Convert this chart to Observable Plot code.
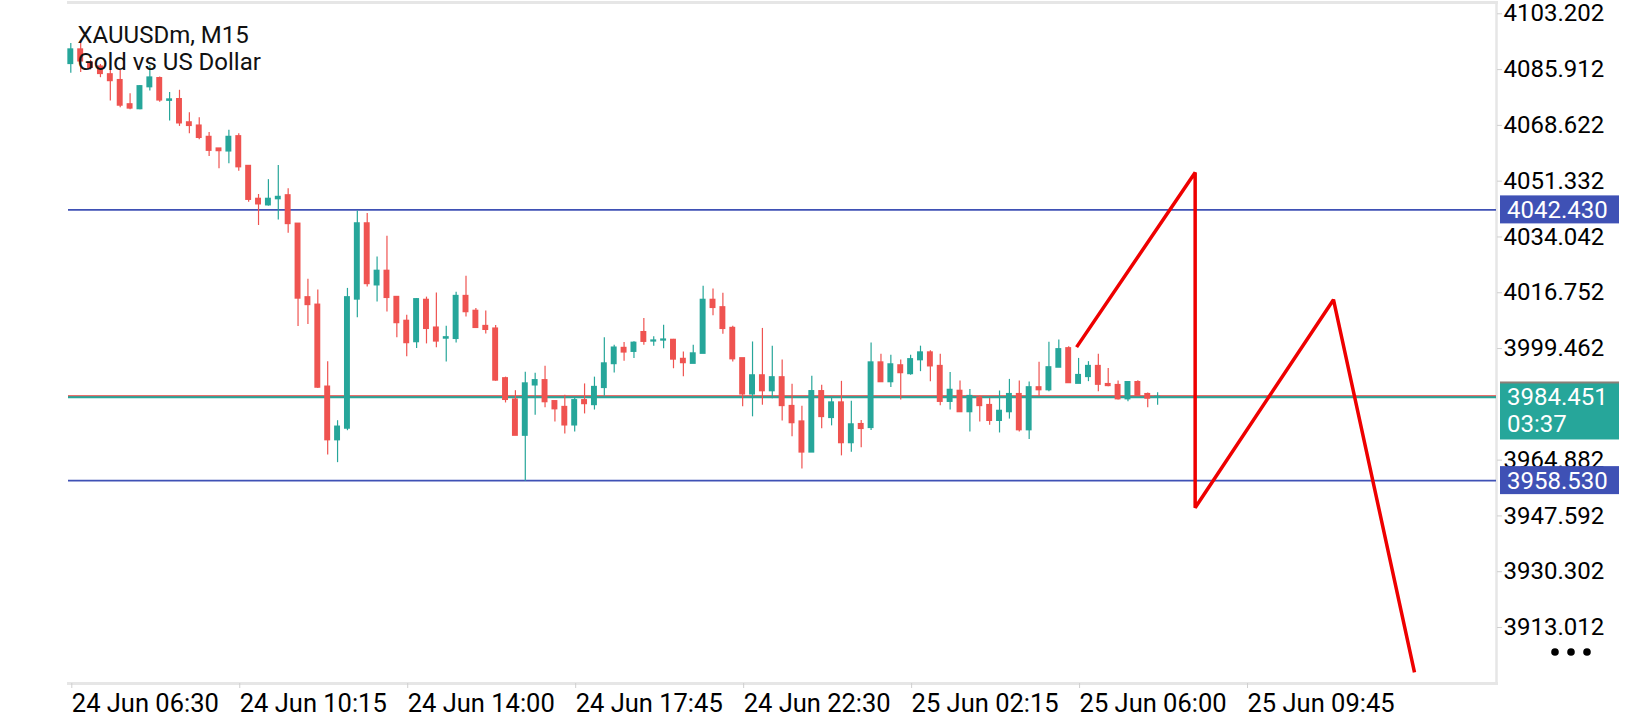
<!DOCTYPE html>
<html>
<head>
<meta charset="utf-8">
<script src="https://cdn.jsdelivr.net/npm/d3@7"></script>
<script src="https://cdn.jsdelivr.net/npm/@observablehq/plot@0.6"></script>
<style>
  html, body { margin: 0; padding: 0; background: #ffffff; }
  #chart { width: 1640px; height: 720px; }
</style>
</head>
<body>
<div id="chart"></div>
<script>
// ---- data ----
const titleLines = ["XAUUSDm, M15", "Gold vs US Dollar"];

const opens = [4087.7,4092.1,4088.0,4086.8,4084.4,4082.6,4075.1,4073.7,4080.5,4083.2,
4076.3,4076.7,4069.5,4068.5,4065.0,4061.4,4060.6,4065.2,4056.0,4045.8,
4043.9,4045.8,4046.9,4038.1,4015.3,4013.0,3987.6,3971.1,3974.7,4014.7,
4038.2,4019.1,4023.5,4015.4,4008.0,4001.5,4014.5,4005.9,4002.6,4002.5,
4015.7,4011.1,4006.4,4005.6,3990.2,3983.6,3972.5,3988.1,3989.6,3983.1,
3981.3,3975.7,3983.4,3982.0,3987.3,3994.7,3999.6,3998.5,4004.5,4001.7,
4002.0,4002.1,3996.2,3994.8,3997.9,4014.5,4012.2,4005.8,3996.4,3985.3,
3991.1,3986.3,3990.5,3981.6,3976.8,3967.3,3986.2,3978.0,3982.7,3970.2,
3976.0,3974.9,3995.1,3989.1,3994.2,3991.6,3995.9,3998.2,3994.0,3983.0,
3986.3,3979.8,3984.2,3981.9,3977.1,3979.8,3985.3,3974.2,3987.4,3986.6,
3993.6,3999.5,3988.6,3990.7,3994.0,3988.4,3988.1,3983.8,3989.0,3985.3,
3984.3];

const highs = [4094.0,4095.0,4088.8,4087.5,4085.7,4085.7,4078.4,4081.0,4087.2,4083.6,
4078.8,4079.5,4072.5,4071.0,4066.4,4061.4,4067.1,4066.0,4056.0,4047.2,
4051.8,4056.2,4049.0,4038.1,4020.9,4017.6,3995.4,3977.1,4018.1,4042.1,
4041.3,4027.8,4034.3,4015.4,4009.8,4015.0,4015.4,4016.7,4006.4,4016.9,
4021.9,4011.9,4011.1,4006.6,3990.6,3986.4,3992.1,3991.8,3994.0,3983.1,
3985.0,3984.0,3988.5,3990.6,4002.8,4000.5,4001.3,4001.6,4008.8,4003.1,
4006.7,4002.3,3998.4,4000.5,4018.8,4017.9,4016.6,4006.4,3996.4,4001.5,
4005.7,4000.2,3995.9,3988.4,3981.6,3990.9,3988.1,3984.2,3989.3,3983.1,
3977.2,4001.2,3997.7,3997.4,3995.9,3997.4,4000.2,3998.8,3997.7,3992.0,
3989.4,3986.8,3984.7,3984.0,3986.3,3989.9,3989.4,3989.1,3995.2,4001.4,
4002.1,4000.0,3996.4,3995.4,3997.7,3993.3,3989.4,3989.0,3989.5,3985.7,
3985.8];

const lows = [4084.8,4085.0,4085.8,4083.4,4076.2,4074.1,4073.5,4073.5,4079.3,4075.8,
4070.0,4068.3,4066.0,4064.2,4059.0,4055.2,4056.7,4054.4,4044.8,4037.6,
4043.6,4039.3,4035.2,4006.3,4006.9,3987.1,3966.5,3964.1,3974.0,4009.0,
4018.5,4013.9,4010.8,4002.8,3996.9,3999.5,4000.9,3999.7,3995.3,4001.2,
4009.2,4005.9,4004.0,3989.3,3982.6,3972.5,3958.3,3978.8,3981.1,3976.7,
3973.0,3973.6,3979.2,3980.4,3984.7,3991.9,3995.5,3996.4,4000.5,4000.2,
3999.4,3993.2,3990.7,3994.8,3997.9,4009.6,4003.9,3995.3,3981.4,3978.3,
3981.9,3983.9,3977.0,3972.1,3962.1,3967.3,3974.6,3975.5,3966.2,3967.3,
3968.7,3974.1,3989.1,3987.4,3983.5,3991.2,3992.3,3989.2,3981.7,3980.4,
3979.8,3973.6,3976.7,3975.7,3973.3,3977.6,3973.6,3971.3,3984.5,3986.1,
3993.6,3988.6,3988.6,3989.2,3986.1,3987.6,3983.5,3983.0,3984.8,3981.1,
3981.9];

const closes = [4092.1,4088.5,4086.5,4084.6,4082.4,4074.8,4073.9,4080.7,4083.4,4076.4,
4076.6,4069.3,4068.5,4064.8,4060.8,4060.7,4065.0,4055.7,4045.6,4044.2,
4045.8,4046.4,4038.1,4015.0,4013.0,3987.4,3971.1,3975.2,4015.3,4038.2,
4019.5,4023.5,4015.2,4007.4,4001.2,4014.7,4005.6,4001.7,4002.9,4015.7,
4010.8,4005.9,4005.3,3989.6,3983.6,3972.5,3988.6,3989.6,3982.9,3980.7,
3975.7,3983.4,3982.3,3987.5,3994.8,3999.7,3998.3,4001.2,4001.6,4001.9,
4002.2,3996.1,3995.0,3997.9,4014.5,4012.1,4005.6,3996.2,3985.3,3991.1,
3986.3,3990.5,3981.7,3976.4,3967.3,3986.2,3978.3,3982.7,3970.2,3975.9,
3974.6,3995.1,3989.1,3994.5,3991.9,3996.1,3998.2,3994.0,3983.0,3986.6,
3979.8,3984.7,3981.7,3977.1,3980.1,3985.3,3974.2,3987.4,3986.6,3993.6,
3999.2,3988.8,3991.2,3994.0,3988.3,3987.9,3983.8,3989.0,3984.8,3984.0,
3984.451];

const xTickIndex = [0, 17, 34, 51, 68, 85, 102, 119];
const xTickLabels = ["24 Jun 06:30","24 Jun 10:15","24 Jun 14:00","24 Jun 17:45",
                     "24 Jun 22:30","25 Jun 02:15","25 Jun 06:00","25 Jun 09:45"];
const yTicks = [4103.202, 4085.912, 4068.622, 4051.332, 4034.042, 4016.752,
                3999.462, 3964.882, 3947.592, 3930.302, 3913.012];

const levelPrices = [4042.430, 3958.530];
const bidPrice = 3984.451;
const askPrice = 3984.85;
const timerText = "03:37";

// hand-drawn zigzag (bar position, price)
const zigIndex = [101.8, 113.8, 113.8, 127.8, 136.0];
const zigPrice = [3999.9, 4054.0, 3950.1, 4014.6, 3899.1];

// ---- styling ----
const UP = "#26a69a", DOWN = "#ef5350", LEVEL = "#3f51b5", BORDER = "#e6e6e6";
const idx = opens.map((_, i) => i);
const colorOf = i => closes[i] >= opens[i] ? UP : DOWN;
const labelOf = new Map(xTickIndex.map((d, i) => [d, xTickLabels[i]]));

const chart = Plot.plot({
  width: 1640,
  height: 720,
  marginLeft: 68,
  marginRight: 144,
  marginTop: 2,
  marginBottom: 37,
  x: { domain: [-0.233, 144.30], axis: null },
  y: { domain: [3895.66, 4106.70], axis: null },
  style: { fontFamily: "Roboto", fontSize: "24px", background: "#ffffff", color: "#000" },
  marks: [
    Plot.frame({ anchor: "top", stroke: BORDER, strokeWidth: 3 }),
    Plot.frame({ anchor: "right", stroke: BORDER, strokeWidth: 2.5 }),
    Plot.frame({ anchor: "bottom", stroke: BORDER, strokeWidth: 3 }),
    Plot.ruleY(levelPrices, { stroke: LEVEL, strokeWidth: 1.6 }),
    Plot.ruleY([bidPrice], { stroke: UP, strokeWidth: 2.6 }),
    Plot.ruleY([askPrice], { stroke: DOWN, strokeWidth: 1 }),
    Plot.ruleX(idx, { x: i => i, y1: i => lows[i], y2: i => highs[i], stroke: colorOf, strokeWidth: 1.2 }),
    Plot.rect(idx, {
      x1: i => i - 0.3, x2: i => i + 0.3,
      y1: i => opens[i], y2: i => closes[i],
      fill: colorOf, insetTop: -0.8, insetBottom: -0.8
    }),
    Plot.line(zigIndex.map((d, i) => i), {
      x: i => zigIndex[i], y: i => zigPrice[i],
      stroke: "#ee0000", strokeWidth: 3.5, strokeLinejoin: "miter", strokeLinecap: "butt"
    }),
    Plot.axisY({
      anchor: "right", ticks: yTicks, tickFormat: d => d.toFixed(3),
      tickSize: 5, tickPadding: 2, fontSize: 24, stroke: "#cfcfcf", color: "#000", label: null
    }),
    Plot.axisX({
      anchor: "bottom", ticks: xTickIndex, tickFormat: d => labelOf.get(d),
      textAnchor: "start", dx: 1, tickSize: 5, tickPadding: 5, fontSize: 25.5,
      stroke: "#cfcfcf", color: "#000", label: null
    }),
    Plot.text([titleLines[0]], { text: d => d, frameAnchor: "top-left", dx: 9, dy: 23, lineAnchor: "top", textAnchor: "start", fontSize: 24, fill: "#111" }),
    Plot.text([titleLines[1]], { text: d => d, frameAnchor: "top-left", dx: 9, dy: 50, lineAnchor: "top", textAnchor: "start", fontSize: 24, fill: "#111" })
  ]
});

document.getElementById("chart").appendChild(chart);

// price tags in the right margin, positioned through the plot's own scales
const svg = d3.select(chart);
const ys = chart.scale("y");
const xs = chart.scale("x");
const right = xs.range[1];
const tagX = right + 4, tagW = 119;

function tagText(x, y, str, dy) {
  const t = svg.append("text").attr("x", x).attr("y", y)
    .attr("text-anchor", "start").attr("fill", "#fff")
    .attr("font-family", "Roboto").attr("font-size", 24).text(str);
  if (dy) t.attr("dy", dy);
  return t;
}

levelPrices.forEach(p => {
  const y = ys.apply(p);
  svg.append("rect").attr("x", tagX).attr("y", y - 14).attr("width", tagW).attr("height", 28).attr("fill", LEVEL);
  tagText(tagX + 7, y, p.toFixed(3), "0.36em");
});

{
  const y = ys.apply(bidPrice);
  svg.append("rect").attr("x", tagX).attr("y", y - 15).attr("width", tagW).attr("height", 3).attr("fill", "#8b7f77");
  svg.append("rect").attr("x", tagX).attr("y", y - 13).attr("width", tagW).attr("height", 56).attr("fill", UP);
  tagText(tagX + 7, y + 8.5, bidPrice.toFixed(3));
  tagText(tagX + 7, y + 35.5, timerText);
}

// "more" dots under the price axis
{
  const yb = ys.range[0];
  [59, 75, 91].forEach(off => {
    svg.append("circle").attr("cx", right + off).attr("cy", yb - 31).attr("r", 3.8).attr("fill", "#000");
  });
}
</script>
</body>
</html>
